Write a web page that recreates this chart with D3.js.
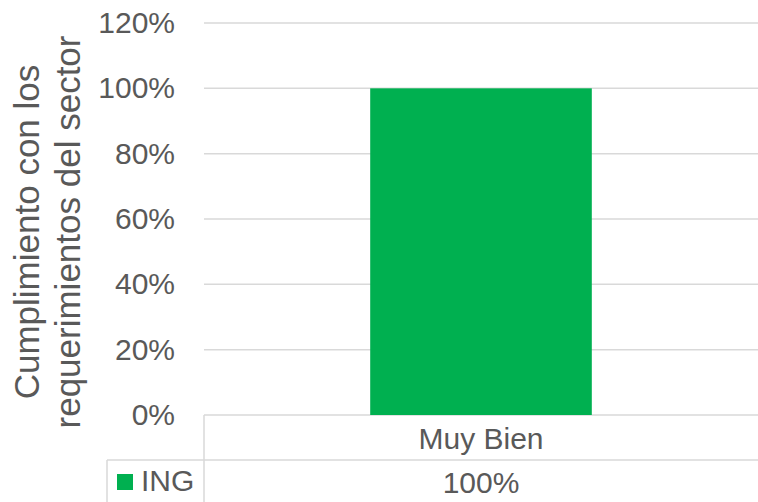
<!DOCTYPE html>
<html>
<head>
<meta charset="utf-8">
<script src="https://cdn.jsdelivr.net/npm/d3@7"></script>
<style>
  body { margin: 0; background: #fff; }
  text { font-family: "Liberation Sans", Arial, sans-serif; fill: #595959; }
</style>
</head>
<body>
<div id="chart"></div>
<script>
// Data
var categories = ['Muy Bien'];
var seriesName = 'ING';
var values = [1.0];
var tickValues = [0, 0.2, 0.4, 0.6, 0.8, 1.0, 1.2];

var W = 758, H = 502;
var plot = {left: 204, right: 758, top: 23, bottom: 415};
var green = '#00b050', gridColor = '#d9d9d9';

var svg = d3.select('#chart').append('svg')
    .attr('width', W)
    .attr('height', H);

// scales
var x = d3.scaleBand()
    .domain(categories)
    .range([plot.left, plot.right])
    .paddingInner(0.6)
    .paddingOuter(0.3);

var y = d3.scaleLinear()
    .domain([0, 1.2])
    .range([plot.bottom, plot.top]);

// gridlines
svg.append('g')
    .selectAll('line')
    .data(tickValues)
    .enter().append('line')
    .attr('x1', plot.left)
    .attr('x2', plot.right)
    .attr('y1', function(d) { return y(d); })
    .attr('y2', function(d) { return y(d); })
    .attr('stroke', gridColor)
    .attr('stroke-width', 1.5);

// y axis labels
var yAxis = svg.append('g')
    .attr('transform', 'translate(' + (plot.left - 29) + ',0)')
    .call(d3.axisLeft(y).tickValues(tickValues).tickSize(0).tickFormat(d3.format('.0%')));
yAxis.select('.domain').remove();
yAxis.selectAll('text')
    .attr('x', 0)
    .style('font-size', '30px')
    .style('font-family', '"Liberation Sans", Arial, sans-serif')
    .attr('fill', '#595959');

// bars
svg.append('g')
    .selectAll('rect')
    .data(values)
    .enter().append('rect')
    .attr('x', function(d, i) { return x(categories[i]); })
    .attr('width', x.bandwidth())
    .attr('y', function(d) { return y(d); })
    .attr('height', function(d) { return y(0) - y(d); })
    .attr('fill', green);

// y axis title (two lines)
var titleLines = ['Cumplimiento con los', 'requerimientos del sector'];
svg.append('g')
    .selectAll('text')
    .data(titleLines)
    .enter().append('text')
    .attr('transform', function(d, i) { return 'translate(' + (39 + i * 41) + ',232) rotate(-90)'; })
    .style('text-anchor', 'middle')
    .style('font-size', '35px')
    .text(function(d) { return d; });

// data table
var rowY = 460;
var table = svg.append('g')
    .attr('stroke', gridColor)
    .attr('stroke-width', 1.5);
table.append('line')
    .attr('x1', 107).attr('x2', plot.right)
    .attr('y1', rowY).attr('y2', rowY);
table.append('line')
    .attr('x1', plot.left).attr('x2', plot.left)
    .attr('y1', plot.bottom).attr('y2', H);
table.append('line')
    .attr('x1', 107).attr('x2', 107)
    .attr('y1', rowY).attr('y2', H);

// category labels
svg.append('g')
    .selectAll('text')
    .data(categories)
    .enter().append('text')
    .attr('x', function(d) { return x(d) + x.bandwidth() / 2; })
    .attr('y', 449)
    .style('text-anchor', 'middle')
    .style('font-size', '30px')
    .text(function(d) { return d; });

// values row
svg.append('g')
    .selectAll('text')
    .data(values)
    .enter().append('text')
    .attr('x', function(d, i) { return x(categories[i]) + x.bandwidth() / 2; })
    .attr('y', 493)
    .style('text-anchor', 'middle')
    .style('font-size', '30px')
    .text(function(d) { return d3.format('.0%')(d); });

// legend key
svg.append('rect')
    .attr('x', 117)
    .attr('y', 474)
    .attr('width', 16)
    .attr('height', 16)
    .attr('fill', green);
svg.append('text')
    .attr('x', 141)
    .attr('y', 491)
    .style('font-size', '30px')
    .text(seriesName);
</script>
</body>
</html>
